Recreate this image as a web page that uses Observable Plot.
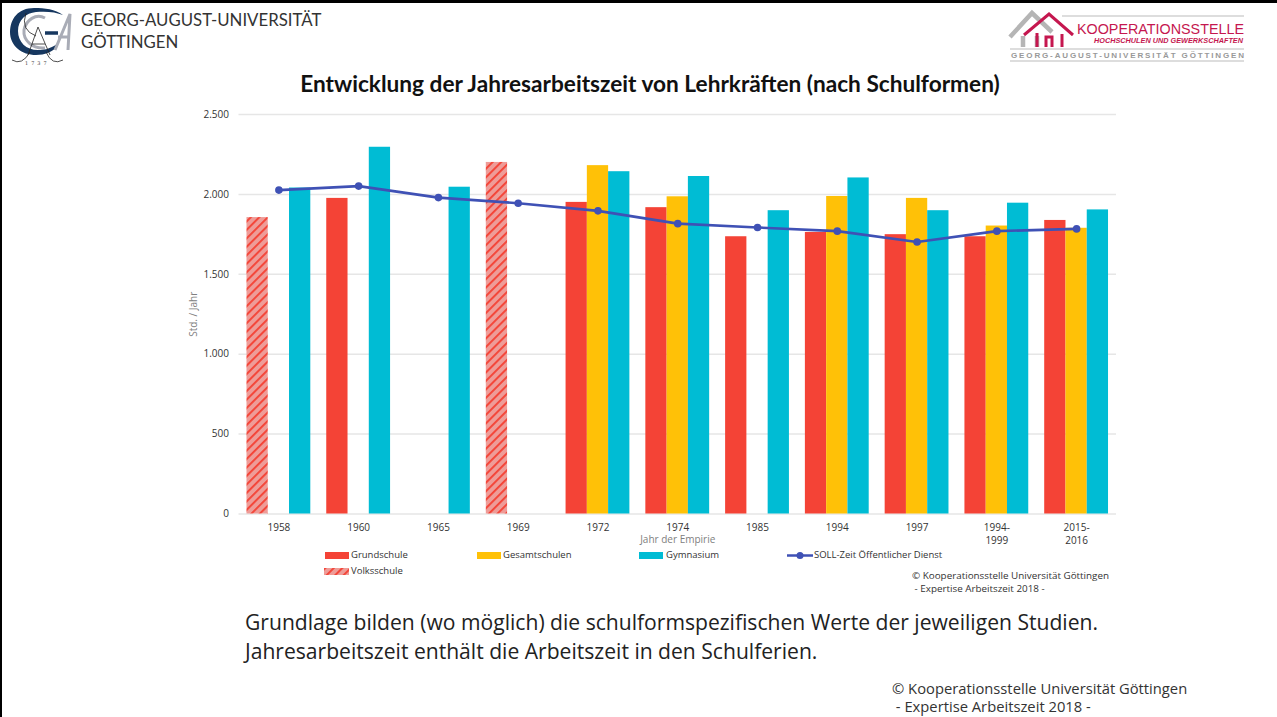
<!DOCTYPE html>
<html lang="de">
<head>
<meta charset="utf-8">
<script src="https://cdn.jsdelivr.net/npm/d3@7"></script>
<script src="https://cdn.jsdelivr.net/npm/@observablehq/plot@0.6"></script>
<style>
html,body{margin:0;padding:0;background:#fff;overflow:hidden}
#page{position:relative;width:1277px;height:717px;overflow:hidden;font-family:"Open Sans",sans-serif;color:#222}
#page .t{position:absolute;white-space:pre}
#frameTop{position:absolute;left:0;top:0;width:1277px;height:3px;background:#000}
#frameLeft{position:absolute;left:0;top:0;width:2px;height:717px;background:#000}
#chart{position:absolute;left:0;top:0}
.sw{position:absolute;height:7px;width:24px}
.lg{position:absolute;font-size:9.5px;color:#333;white-space:pre;line-height:12px}
</style>
</head>
<body>
<div id="page">
  <div id="chart"></div>
  <div id="frameTop"></div><div id="frameLeft"></div>

  <svg style="position:absolute;left:0;top:0" width="80" height="70">
    <path d="M45 18 C36 13 26 20 24 30 C23 40 32 49 45 48" fill="none" stroke="#a9acb6" stroke-width="3"/>
    <path d="M63 15 C55 9 45 8 34 8 C18 8 10 19 10 32 C10 46 22 55 36 55 C45 55 52 52 58 46 L57 44 C50 49 44 50 38 50 C26 50 18 42 18 31 C18 20 26 13 36 12 C46 11 56 12 63 15 Z" fill="#16375f"/>
    <path d="M45 33 H58" stroke="#16375f" stroke-width="3.5"/>
    <path d="M55 50 L70 14 L68 50 M58 37 H68" fill="none" stroke="#a9acb6" stroke-width="3"/>
    <path d="M38 27 L28 55 M38 27 L50 55 M32 44 H45 M26 13 Q20 30 36 36 M12 60 Q22 66 30 52 M63 60 Q52 66 46 52" fill="none" stroke="#222" stroke-width="0.8"/>
    <text x="25" y="65" font-size="5" font-family="DejaVu Serif" letter-spacing="3" fill="#444">1737</text>
  </svg>
  <div class="t" style="left:81px;top:9px;font-size:16.8px;line-height:22px;font-family:Lato,sans-serif;color:#333">GEORG-AUGUST-UNIVERSITÄT
GÖTTINGEN</div>

  <svg style="position:absolute;left:990px;top:0" width="270" height="66">
    <path d="M72 16 H254" stroke="#bbb" stroke-width="1"/>
    <path d="M20 37 L42 13 L62 32 M33 36 V47 M47 36 V47" fill="none" stroke="#b5b5b5" stroke-width="4.5"/>
    <path d="M34 35 L59 14 L83 35 M47 33 V47 M56 47 V37 H62 V47 M72 34 V47" fill="none" stroke="#c5174f" stroke-width="3"/>
    <path d="M20 49 H254" stroke="#bbb" stroke-width="1"/>
    <path d="M20 61 H254" stroke="#bbb" stroke-width="1"/>
    <text x="87" y="34" font-family="Liberation Sans" font-size="14" textLength="167" lengthAdjust="spacingAndGlyphs" fill="#c5174f">KOOPERATIONSSTELLE</text>
    <text x="104" y="43" font-family="Liberation Sans" font-weight="bold" font-style="italic" font-size="7" textLength="149" lengthAdjust="spacingAndGlyphs" fill="#c5174f">HOCHSCHULEN UND GEWERKSCHAFTEN</text>
    <text x="21" y="58" font-family="Liberation Sans" font-weight="bold" font-size="8" textLength="233" fill="#999">GEORG-AUGUST-UNIVERSITÄT GÖTTINGEN</text>
  </svg>

  <div class="t" style="left:0;width:1300px;text-align:center;top:70px;font-size:22.65px;font-weight:700;font-family:Lato,sans-serif;color:#111">Entwicklung der Jahresarbeitszeit von Lehrkräften (nach Schulformen)</div>

  <div class="sw" style="left:325px;top:552px;background:#F44336"></div>
  <div class="lg" style="left:351px;top:549px">Grundschule</div>
  <div class="sw" style="left:477px;top:552px;background:#FFC107"></div>
  <div class="lg" style="left:503px;top:549px">Gesamtschulen</div>
  <div class="sw" style="left:639px;top:552px;background:#00BCD4"></div>
  <div class="lg" style="left:666px;top:549px">Gymnasium</div>
  <svg style="position:absolute;left:787px;top:550px" width="28" height="11"><path d="M0 5.5 H26" stroke="#3F51B5" stroke-width="2.5"/><circle cx="13" cy="5.5" r="3.5" fill="#3F51B5"/></svg>
  <div class="lg" style="left:814px;top:549px">SOLL-Zeit Öffentlicher Dienst</div>
  <svg style="position:absolute;left:324px;top:568px" width="25" height="7"><defs><pattern id="hatchLegend" width="6" height="6" patternUnits="userSpaceOnUse" patternTransform="rotate(45)"><rect width="6" height="6" fill="#EE9C98"/><rect width="1.9" height="6" fill="#F44336"/></pattern></defs><rect width="25" height="7" fill="url(#hatchLegend)"/></svg>
  <div class="lg" style="left:351px;top:565px">Volksschule</div>

  <div class="t" style="left:912px;top:569px;font-size:9.85px;line-height:12.5px;color:#333">© Kooperationsstelle Universität Göttingen
 - Expertise Arbeitszeit 2018 -</div>

  <div class="t" style="left:245px;top:607px;font-size:21.1px;line-height:29px;color:#222">Grundlage bilden (wo möglich) die schulformspezifischen Werte der jeweiligen Studien.
Jahresarbeitszeit enthält die Arbeitszeit in den Schulferien.</div>

  <div class="t" style="left:892px;top:679px;font-size:14.75px;line-height:18px;color:#333">© Kooperationsstelle Universität Göttingen
 - Expertise Arbeitszeit 2018 -</div>
</div>

<script>
const years = ["1958","1960","1965","1969","1972","1974","1985","1994","1997","1994-\n1999","2015-\n2016"];
const grundschule  = [null,1975,null,null,1950,1917,1735,1762,1748,1735,1837];
const gesamtschule = [null,null,null,null,2180,1985,null,1987,1975,1802,1788];
const gymnasium    = [2040,2295,2045,null,2142,2112,1898,2103,1898,1945,1903];
const volksschule  = [1855,null,null,2200,null,null,null,null,null,null,null];
const sollZeit     = [2027,2052,1980,1945,1897,1817,1793,1770,1702,1770,1784];
const yTicks = [0,500,1000,1500,2000,2500];

const rows = values => years.map((year,i)=>({year,value:values[i]})).filter(d=>d.value!=null);
const deFormat = d3.formatLocale({decimal:",",thousands:".",grouping:[3],currency:["","€"]}).format(",");

const third = 21.27;
const hatchDefs = () => {
  const svg = d3.create("svg:g");
  const p = svg.append("defs").append("pattern")
    .attr("id","hatch").attr("width",6).attr("height",6)
    .attr("patternUnits","userSpaceOnUse").attr("patternTransform","rotate(45)");
  p.append("rect").attr("width",6).attr("height",6).attr("fill","#EE9C98");
  p.append("rect").attr("width",1.9).attr("height",6).attr("fill","#F44336");
  return svg.node();
};

const chart = Plot.plot({
  width:1277, height:560,
  marginTop:114, marginBottom:46.5, marginLeft:238.5, marginRight:161,
  style:{background:"transparent",fontFamily:"'Open Sans',sans-serif",fontSize:"10px",color:"#333"},
  x:{type:"band",domain:years,paddingInner:0.2,paddingOuter:0.1,round:false},
  y:{domain:[0,2500]},
  marks:[
    hatchDefs,
    Plot.ruleY(yTicks,{stroke:"#e6e6e6",strokeWidth:1.5}),
    Plot.barY(rows(grundschule),{x:"year",y:"value",fill:"#F44336",insetRight:2*third}),
    Plot.barY(rows(volksschule),{x:"year",y:"value",fill:"url(#hatch)",insetRight:2*third}),
    Plot.barY(rows(gesamtschule),{x:"year",y:"value",fill:"#FFC107",insetLeft:third,insetRight:third}),
    Plot.barY(rows(gymnasium),{x:"year",y:"value",fill:"#00BCD4",insetLeft:2*third}),
    Plot.line(rows(sollZeit),{x:"year",y:"value",stroke:"#3F51B5",strokeWidth:2.6}),
    Plot.dot(rows(sollZeit),{x:"year",y:"value",fill:"#3F51B5",r:3.8}),
    Plot.axisY({ticks:yTicks,tickFormat:deFormat,tickSize:0,tickPadding:10,label:"Std. / Jahr",labelAnchor:"center",labelArrow:"none",labelOffset:49,color:"#333"}),
    Plot.axisX({tickSize:0,tickPadding:8,label:"Jahr der Empirie",labelAnchor:"center",labelArrow:"none",labelOffset:29,lineHeight:1.3})
  ]
});
document.getElementById("chart").append(chart);
d3.select(chart).selectAll("[aria-label='x-axis label'] text, [aria-label='y-axis label'] text").attr("fill","#808080");
</script>
</body>
</html>
